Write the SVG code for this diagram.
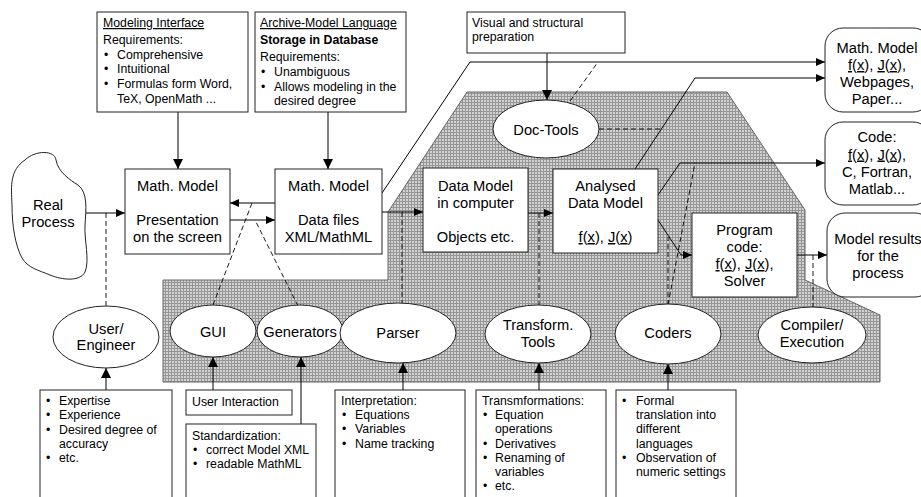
<svg xmlns="http://www.w3.org/2000/svg" width="921" height="497" viewBox="0 0 921 497">
<defs>
<pattern id="hatch" width="3" height="3" patternUnits="userSpaceOnUse">
<rect width="3" height="3" fill="#d2d2d2"/>
<rect width="1" height="3" fill="#969696"/>
<rect width="3" height="1" fill="#969696"/>
</pattern>
<marker id="ah" markerWidth="10" markerHeight="10" refX="10" refY="5" orient="auto" markerUnits="userSpaceOnUse">
<path d="M0,0 L10,5 L0,10 Z" fill="#000"/>
</marker>
<marker id="as" markerWidth="9" markerHeight="8" refX="9" refY="4" orient="auto" markerUnits="userSpaceOnUse">
<path d="M0,0 L9,4 L0,8 Z" fill="#000"/>
</marker>
</defs>
<style>
text{font-family:"Liberation Sans",Arial,sans-serif;fill:#000}
.n{font-size:14.7px;text-anchor:middle}
.s{font-size:12.3px}
.u{text-decoration:underline}
.b{font-weight:bold}
.box{fill:#fff;stroke:#222;stroke-width:1}
.ln{fill:none;stroke:#000;stroke-width:1}
.big{marker-end:url(#ah)}
.sm{marker-end:url(#as)}
.d{fill:none;stroke:#000;stroke-width:0.9;stroke-dasharray:5,3}
</style>

<g id="region">
<polygon points="163,280 388,280 388,212 467,92 727,92 805,210 805,280 880,315 880,382 163,382" fill="url(#hatch)" stroke="#666" stroke-width="1"/>
</g>

<g id="connectors">
<line class="ln big" x1="178" y1="112" x2="178" y2="169"/>
<line class="ln big" x1="328" y1="112" x2="328" y2="169"/>
<line class="ln big" x1="547" y1="53" x2="547" y2="100"/>
<line class="ln sm" x1="85" y1="213" x2="125" y2="213"/>
<line class="d" x1="106" y1="213" x2="106" y2="306"/>
<line class="ln sm" x1="275" y1="203" x2="230" y2="203"/>
<line class="ln sm" x1="230" y1="220" x2="275" y2="220"/>
<line class="d" x1="213" y1="305" x2="252" y2="203"/>
<line class="d" x1="298" y1="306" x2="255" y2="220"/>
<line class="ln sm" x1="382" y1="212" x2="423" y2="212"/>
<line class="d" x1="402" y1="212" x2="402" y2="303"/>
<polyline class="ln sm" points="382,193 470,62 825,62"/>
<line class="d" x1="570" y1="101" x2="598" y2="62"/>
<line class="ln sm" x1="528" y1="213" x2="553" y2="213"/>
<line class="d" x1="539" y1="213" x2="539" y2="305"/>
<polyline class="ln sm" points="635,169 695,78 825,78"/>
<line class="d" x1="599" y1="129" x2="661" y2="129" stroke="#444"/>
<polyline class="ln sm" points="658,195 680,163 825,163"/>
<polyline class="ln sm" points="658,220 681,255 692,255"/>
<line class="d" x1="668" y1="305" x2="668" y2="237"/>
<line class="d" x1="668" y1="305" x2="695" y2="163"/>
<line class="ln sm" x1="797" y1="255" x2="827" y2="255"/>
<line class="d" x1="813" y1="255" x2="813" y2="307"/>
<line class="ln big" x1="106" y1="390" x2="106" y2="368"/>
<line class="ln big" x1="213" y1="390" x2="213" y2="357"/>
<line class="ln big" x1="301" y1="424" x2="301" y2="357"/>
<line class="ln big" x1="403" y1="390" x2="403" y2="363"/>
<line class="ln big" x1="539" y1="390" x2="539" y2="363"/>
<line class="ln big" x1="668" y1="390" x2="668" y2="364"/>
</g>

<g id="modeling-interface">
<rect class="box" x="97" y="12" width="151" height="100"/>
<text class="s" x="103" y="27"><tspan class="u">Modeling Interface</tspan></text>
<text class="s" x="103" y="44">Requirements:</text>
<text class="s" x="104" y="59">•</text><text class="s" x="117" y="59">Comprehensive</text>
<text class="s" x="104" y="73">•</text><text class="s" x="117" y="73">Intuitional</text>
<text class="s" x="104" y="88">•</text><text class="s" x="117" y="88">Formulas form Word,</text>
<text class="s" x="117" y="103">TeX, OpenMath ...</text>
</g>

<g id="archive-model">
<rect class="box" x="255" y="12" width="151" height="100"/>
<text class="s" x="260" y="27"><tspan class="u">Archive-Model Language</tspan></text>
<text class="s b" x="260" y="44">Storage in Database</text>
<text class="s" x="260" y="61">Requirements:</text>
<text class="s" x="261" y="76">•</text><text class="s" x="274" y="76">Unambiguous</text>
<text class="s" x="261" y="91">•</text><text class="s" x="274" y="91">Allows modeling in the</text>
<text class="s" x="274" y="105">desired degree</text>
</g>

<g id="visual-prep">
<rect class="box" x="467" y="12" width="158" height="41"/>
<text class="s" x="472" y="27">Visual and structural</text>
<text class="s" x="472" y="41">preparation</text>
</g>

<g id="real-process">
<path d="M25,160 C35,150 55,150 56,160 C58,172 70,180 78,185 C88,192 86,210 85,225 C84,240 90,260 85,272 C80,282 62,280 50,275 C38,270 28,268 22,258 C15,245 12,225 12,205 C11,185 10,170 25,160 Z" fill="#fff" stroke="#222" stroke-width="1"/>
<text class="n" x="48" y="210">Real</text>
<text class="n" x="48" y="227">Process</text>
</g>

<g id="presentation">
<rect class="box" x="125" y="169" width="105" height="85"/>
<text class="n" x="177.5" y="191">Math. Model</text>
<text class="n" x="177.5" y="225">Presentation</text>
<text class="n" x="177.5" y="242">on the screen</text>
</g>

<g id="data-files">
<rect class="box" x="275" y="169" width="107" height="85"/>
<text class="n" x="328.5" y="191">Math. Model</text>
<text class="n" x="328.5" y="225">Data files</text>
<text class="n" x="328.5" y="242">XML/MathML</text>
</g>

<g id="data-model">
<rect class="box" x="423" y="168" width="105" height="84"/>
<text class="n" x="475.5" y="191">Data Model</text>
<text class="n" x="475.5" y="208">in computer</text>
<text class="n" x="475.5" y="242">Objects etc.</text>
</g>

<g id="analysed">
<rect class="box" x="553" y="169" width="105" height="84"/>
<text class="n" x="605.5" y="191">Analysed</text>
<text class="n" x="605.5" y="208">Data Model</text>
<text class="n" x="605.5" y="242"><tspan class="u">f</tspan>(<tspan class="u">x</tspan>), <tspan class="u">J</tspan>(<tspan class="u">x</tspan>)</text>
</g>

<g id="program-code">
<rect class="box" x="692" y="213" width="105" height="84"/>
<text class="n" x="744.5" y="235">Program</text>
<text class="n" x="744.5" y="252">code:</text>
<text class="n" x="744.5" y="269"><tspan class="u">f</tspan>(<tspan class="u">x</tspan>), <tspan class="u">J</tspan>(<tspan class="u">x</tspan>),</text>
<text class="n" x="744.5" y="286">Solver</text>
</g>

<g id="math-model-out">
<rect class="box" x="825" y="28" width="106" height="84" rx="18"/>
<text class="n" x="877" y="53">Math. Model</text>
<text class="n" x="877" y="70"><tspan class="u">f</tspan>(<tspan class="u">x</tspan>), <tspan class="u">J</tspan>(<tspan class="u">x</tspan>),</text>
<text class="n" x="877" y="87">Webpages,</text>
<text class="n" x="877" y="104">Paper...</text>
</g>

<g id="code-out">
<rect class="box" x="825" y="122" width="106" height="83" rx="18"/>
<text class="n" x="877" y="142">Code:</text>
<text class="n" x="877" y="159.5"><tspan class="u">f</tspan>(<tspan class="u">x</tspan>), <tspan class="u">J</tspan>(<tspan class="u">x</tspan>),</text>
<text class="n" x="877" y="177">C, Fortran,</text>
<text class="n" x="877" y="194">Matlab...</text>
</g>

<g id="model-results">
<rect class="box" x="827" y="213" width="106" height="84" rx="18"/>
<text class="n" x="878" y="244">Model results</text>
<text class="n" x="878" y="261">for the</text>
<text class="n" x="878" y="278">process</text>
</g>

<g id="doc-tools">
<ellipse class="box" cx="546" cy="129" rx="53" ry="29"/>
<text class="n" x="546" y="135">Doc-Tools</text>
</g>

<g id="user-engineer">
<ellipse class="box" cx="106" cy="337" rx="53" ry="31"/>
<text class="n" x="106" y="334">User/</text>
<text class="n" x="106" y="350">Engineer</text>
</g>

<g id="gui">
<ellipse class="box" cx="213" cy="331" rx="43" ry="26"/>
<text class="n" x="213" y="337">GUI</text>
</g>

<g id="generators">
<ellipse class="box" cx="300" cy="331" rx="43" ry="26"/>
<text class="n" x="300" y="337">Generators</text>
</g>

<g id="parser">
<ellipse class="box" cx="398" cy="333" rx="58" ry="30"/>
<text class="n" x="398" y="338">Parser</text>
</g>

<g id="transform-tools">
<ellipse class="box" cx="538" cy="334" rx="53" ry="29"/>
<text class="n" x="538" y="330">Transform.</text>
<text class="n" x="538" y="347">Tools</text>
</g>

<g id="coders">
<ellipse class="box" cx="668" cy="334" rx="53" ry="30"/>
<text class="n" x="668" y="338">Coders</text>
</g>

<g id="compiler">
<ellipse class="box" cx="812" cy="335" rx="54" ry="28"/>
<text class="n" x="812" y="330">Compiler/</text>
<text class="n" x="812" y="347">Execution</text>
</g>

<g id="user-notes">
<rect class="box" x="40" y="390" width="132" height="120"/>
<text class="s" x="46" y="405">•</text><text class="s" x="59" y="405">Expertise</text>
<text class="s" x="46" y="419">•</text><text class="s" x="59" y="419">Experience</text>
<text class="s" x="46" y="434">•</text><text class="s" x="59" y="434">Desired degree of</text>
<text class="s" x="59" y="448">accuracy</text>
<text class="s" x="46" y="462">•</text><text class="s" x="59" y="462">etc.</text>
</g>

<g id="user-interaction">
<rect class="box" x="186" y="390" width="106" height="25"/>
<text class="s" x="192" y="406">User Interaction</text>
</g>

<g id="standardization">
<rect class="box" x="186" y="424" width="130" height="90"/>
<text class="s" x="192" y="440">Standardization:</text>
<text class="s" x="193" y="454">•</text><text class="s" x="206" y="454">correct Model XML</text>
<text class="s" x="193" y="468">•</text><text class="s" x="206" y="468">readable MathML</text>
</g>

<g id="interpretation">
<rect class="box" x="335" y="390" width="130" height="120"/>
<text class="s" x="341" y="405">Interpretation:</text>
<text class="s" x="342" y="419">•</text><text class="s" x="355" y="419">Equations</text>
<text class="s" x="342" y="433">•</text><text class="s" x="355" y="433">Variables</text>
<text class="s" x="342" y="448">•</text><text class="s" x="355" y="448">Name tracking</text>
</g>

<g id="transformations">
<rect class="box" x="476" y="390" width="130" height="120"/>
<text class="s" x="482" y="405">Transmformations:</text>
<text class="s" x="483" y="419">•</text><text class="s" x="495" y="419">Equation</text>
<text class="s" x="495" y="433">operations</text>
<text class="s" x="483" y="448">•</text><text class="s" x="495" y="448">Derivatives</text>
<text class="s" x="483" y="462">•</text><text class="s" x="495" y="462">Renaming of</text>
<text class="s" x="495" y="476">variables</text>
<text class="s" x="483" y="490">•</text><text class="s" x="495" y="490">etc.</text>
</g>

<g id="coder-notes">
<rect class="box" x="616" y="390" width="120" height="120"/>
<text class="s" x="622" y="405">•</text><text class="s" x="636" y="405">Formal</text>
<text class="s" x="636" y="419">translation into</text>
<text class="s" x="636" y="433">different</text>
<text class="s" x="636" y="448">languages</text>
<text class="s" x="622" y="462">•</text><text class="s" x="636" y="462">Observation of</text>
<text class="s" x="636" y="476">numeric settings</text>
</g>
</svg>
